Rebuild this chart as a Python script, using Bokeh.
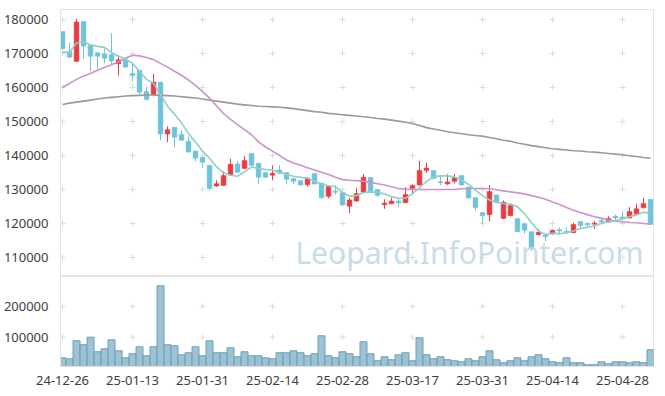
import numpy as np
from bokeh.plotting import figure
from bokeh.layouts import column
from bokeh.models import Range1d, FixedTicker, Label, NumeralTickFormatter
from bokeh.embed import file_html
from bokeh.resources import INLINE

# ---------------- data ----------------
tick_index = [0, 10, 20, 30, 40, 50, 60, 70, 80]
tick_labels = ["24-12-26", "25-01-13", "25-01-31", "25-02-14", "25-02-28",
               "25-03-17", "25-03-31", "25-04-14", "25-04-28"]

opens = [176500, 170500, 167700, 179400, 172400, 170200, 169900, 169700, 167000, 168200,
         164100, 165100, 158800, 157900, 161600, 146300, 148300, 146200, 144200, 141300,
         139500, 137100, 131000, 131200, 134300, 137500, 136200, 140600, 137700, 135000,
         134200, 135700, 135000, 133200, 132600, 131400, 134700, 131900, 128000, 129500,
         129100, 125100, 126600, 129200, 133500, 130000, 125500, 125800, 126600, 126100,
         130300, 131300, 135600, 135600, 132300, 131600, 132400, 134100, 130700, 127600,
         123200, 122600, 128400, 121500, 122300, 121500, 120000, 117600, 116700, 116600,
         116900, 118200, 117700, 117300, 120600, 120100, 119800, 120800, 120400, 122100,
         121900, 121600, 122600, 124600, 127100]
highs = [176600, 173100, 180200, 179400, 172400, 170400, 171500, 176000, 169500, 169000,
         166800, 165100, 160200, 164100, 161600, 148600, 148300, 147400, 145600, 141300,
         139500, 137100, 132700, 135300, 139000, 138400, 139800, 140600, 137700, 135200,
         137100, 137100, 135000, 133400, 132600, 133600, 134700, 131900, 131100, 131200,
         129100, 127500, 130500, 134500, 133500, 130000, 127100, 127600, 127600, 130700,
         131500, 138400, 137900, 135600, 133900, 134500, 134500, 134100, 130700, 127600,
         123200, 131300, 128400, 126800, 125500, 121500, 120000, 117600, 118300, 116800,
         118200, 118800, 118800, 120200, 120600, 120100, 120700, 121500, 122100, 122600,
         123500, 124800, 125800, 127600, 127100]
lows = [171200, 168700, 167500, 168400, 164800, 165600, 167100, 166800, 163500, 165800,
        161900, 158000, 156200, 157400, 144500, 143900, 142400, 144300, 140800, 138300,
        136400, 129700, 130800, 131000, 134000, 134900, 136000, 136900, 131700, 133400,
        132700, 134500, 131800, 131500, 131200, 130800, 131500, 127300, 127400, 128500,
        125200, 123100, 126400, 129000, 129300, 127800, 124300, 125700, 124900, 126000,
        128500, 131100, 134900, 133000, 131300, 131400, 131800, 131200, 127300, 123800,
        120000, 120700, 125900, 121300, 122100, 117400, 117000, 111900, 116500, 114800,
        116700, 116800, 116800, 117100, 118600, 118600, 118400, 119800, 120200, 120900,
        121100, 121400, 122400, 124400, 119700]
closes = [171400, 168900, 179300, 172200, 169200, 169200, 168600, 167800, 168200, 166000,
          163500, 158600, 156500, 161600, 146300, 147600, 145400, 144500, 141000, 139200,
          138000, 130300, 131700, 134100, 137400, 135100, 138500, 137100, 133600, 133600,
          134800, 134800, 133000, 132400, 131300, 133400, 131600, 127600, 130900, 129200,
          125400, 126900, 128800, 133600, 129500, 128300, 126000, 126600, 126100, 128500,
          131200, 135600, 136300, 133200, 132000, 132200, 133500, 131300, 127500, 124700,
          122300, 129400, 126100, 126300, 125300, 117600, 118000, 112600, 117400, 116100,
          118000, 117800, 117500, 119700, 119400, 119600, 120100, 120400, 121500, 121600,
          121300, 123500, 124300, 125900, 119700]
volumes = [33500, 30300, 88400, 75500, 100000, 52900, 62600, 91600, 56100, 33500,
           46500, 69000, 40000, 69000, 265800, 75500, 72300, 43200, 49700, 69000,
           40000, 88400, 49700, 49700, 65800, 36800, 52900, 40000, 40000, 33500,
           30300, 49700, 49700, 56100, 49700, 40000, 46500, 104500, 40000, 33500,
           52900, 46500, 36800, 85200, 46500, 23900, 36800, 27100, 43200, 49700,
           23900, 98000, 43200, 30300, 36800, 27100, 23900, 20600, 30300, 23900,
           36800, 56100, 27100, 17400, 23900, 33500, 23900, 36800, 43200, 30300,
           20600, 17400, 33500, 17400, 17400, 11000, 11000, 20600, 14200, 20600,
           20600, 17400, 20600, 17400, 59400]
ma5 = [170400, 170400, 173100, 173400, 172600, 172100, 171800, 170300, 169200, 168400,
       167100, 164800, 162400, 161200, 157900, 154500, 152100, 149600, 146500, 143900,
       141300, 139200, 136700, 134900, 134200, 133900, 135200, 136600, 136200, 135900,
       135700, 135100, 134400, 133900, 133600, 133300, 132400, 131600, 131100, 130800,
       129100, 128000, 128200, 129100, 129300, 129200, 128700, 127900, 127400, 127400,
       128800, 130500, 132400, 133700, 134000, 134000, 133700, 132800, 131500, 129800,
       128200, 126900, 126300, 125900, 125700, 124900, 122900, 120200, 117800, 116800,
       117100, 117000, 117300, 117800, 118500, 118900, 119300, 120000, 120500, 120800,
       121400, 122000, 122600, 123300, 123000]
ma20 = [160100, 161200, 162400, 163400, 164100, 165100, 165900, 166700, 167600, 168600,
        169500, 169300, 168800, 168200, 167100, 166000, 164800, 163600, 162200, 160600,
        158800, 156900, 154600, 152300, 150600, 149100, 147600, 146100, 144000, 142500,
        141300, 140000, 138700, 137800, 137100, 136400, 135700, 135100, 134400, 133600,
        132900, 132700, 132600, 132400, 132100, 131700, 131300, 130800, 130300, 130100,
        130000, 130000, 130000, 130000, 130000, 130000, 130000, 130200, 130300, 130300,
        130300, 130200, 129900, 129600, 129300, 129000, 128700, 128200, 127700, 127100,
        126300, 125600, 124700, 123900, 123200, 122600, 122000, 121500, 121000, 120700,
        120500, 120300, 120200, 120000, 119800]
ma60 = [155000, 155400, 155700, 156000, 156300, 156600, 156900, 157100, 157300, 157500,
        157600, 157700, 157800, 157800, 157700, 157600, 157500, 157300, 157100, 156900,
        156600, 156300, 156000, 155700, 155400, 155100, 154900, 154700, 154500, 154400,
        154300, 154200, 154000, 153800, 153500, 153200, 152900, 152700, 152400, 152200,
        152000, 151800, 151600, 151400, 151200, 150900, 150700, 150400, 150100, 149800,
        149400, 148800, 148200, 147800, 147400, 147000, 146700, 146400, 146100, 145900,
        145700, 145300, 144900, 144500, 144200, 143700, 143300, 142900, 142600, 142300,
        142000, 141800, 141600, 141400, 141300, 141100, 141000, 140800, 140600, 140400,
        140200, 139900, 139700, 139400, 139200]
price_ticks = [110000, 120000, 130000, 140000, 150000, 160000, 170000, 180000]
volume_ticks = [100000, 200000]

# ---------------- styling ----------------
UP = "#eb3b40"
DOWN = "#6cc3da"
FONT = "Noto Sans"
LABEL_COLOR = "#3d3d3d"
FRAME = "#e4e4e4"
CROSS = "#dcdcdc"

x = np.arange(len(closes))
o = np.array(opens); c = np.array(closes)
h = np.array(highs); l = np.array(lows)
colors = [UP if cc > oo else DOWN for oo, cc in zip(o, c)]
xr = Range1d(-0.29, 84.43)


def style(p):
    p.xgrid.visible = False
    p.ygrid.visible = False
    p.outline_line_color = FRAME
    p.background_fill_color = "white"
    p.border_fill_color = "white"
    for ax in p.yaxis:
        ax.axis_line_color = FRAME
        ax.major_tick_line_color = None
        ax.minor_tick_line_color = None
        ax.major_label_text_font = FONT
        ax.major_label_text_font_size = "13px"
        ax.major_label_text_color = LABEL_COLOR
        ax.major_label_standoff = 6
        ax.formatter = NumeralTickFormatter(format="0")


# price panel
p1 = figure(frame_width=593, frame_height=267, x_range=xr, y_range=Range1d(104400, 182950),
            x_axis_location=None, toolbar_location=None, output_backend="svg",
            min_border_left=54, min_border_right=2, min_border_top=9, min_border_bottom=0)
style(p1)
p1.yaxis.ticker = FixedTicker(ticks=price_ticks)

gx = [t for t in tick_index for _ in price_ticks]
gy = [v for _ in tick_index for v in price_ticks]
p1.scatter(gx, gy, marker="cross", size=6, line_color=CROSS, line_width=1)

p1.segment(x0=x, y0=l, x1=x, y1=h, line_color=colors, line_width=1)
p1.vbar(x=x, top=np.maximum(o, c), bottom=np.minimum(o, c), width=0.68,
        fill_color=colors, line_color=colors, line_width=0.5)

p1.line(x, ma60, line_color="#9a9a9a", line_width=1.6)
p1.line(x, ma20, line_color="#cc93cc", line_width=1.6)
p1.line(x, ma5, line_color="#8fd0c6", line_width=1.6)

wm = Label(x=83.0, y=111400, text="Leopard.InfoPointer.com", text_align="right",
           text_baseline="alphabetic", text_font=FONT, text_font_size="30px",
           text_color="#c2d8e4", text_alpha=0.9)
p1.add_layout(wm)

# volume panel
p2 = figure(frame_width=593, frame_height=90, x_range=xr, y_range=Range1d(5400, 295800),
            toolbar_location=None, output_backend="svg",
            min_border_left=54, min_border_right=2, min_border_top=0, min_border_bottom=18)
style(p2)
p2.yaxis.ticker = FixedTicker(ticks=volume_ticks)
p2.xaxis.ticker = FixedTicker(ticks=tick_index)
p2.xaxis.major_label_overrides = {t: s for t, s in zip(tick_index, tick_labels)}
p2.xaxis.axis_line_color = FRAME
p2.xaxis.major_tick_line_color = None
p2.xaxis.minor_tick_line_color = None
p2.xaxis.major_label_text_font = FONT
p2.xaxis.major_label_text_font_size = "13px"
p2.xaxis.major_label_text_color = LABEL_COLOR
p2.xaxis.major_label_standoff = 3

vx = [t for t in tick_index for _ in volume_ticks]
vy = [v for _ in tick_index for v in volume_ticks]
p2.scatter(vx, vy, marker="cross", size=6, line_color=CROSS, line_width=1)
p2.vbar(x=x, top=volumes, bottom=0, width=1.0, fill_color="#9cc2d4",
        line_color="#6e9fb6", line_width=1)

layout = column(p1, p2, spacing=0)
open("out.html", "w").write(file_html(layout, INLINE))
